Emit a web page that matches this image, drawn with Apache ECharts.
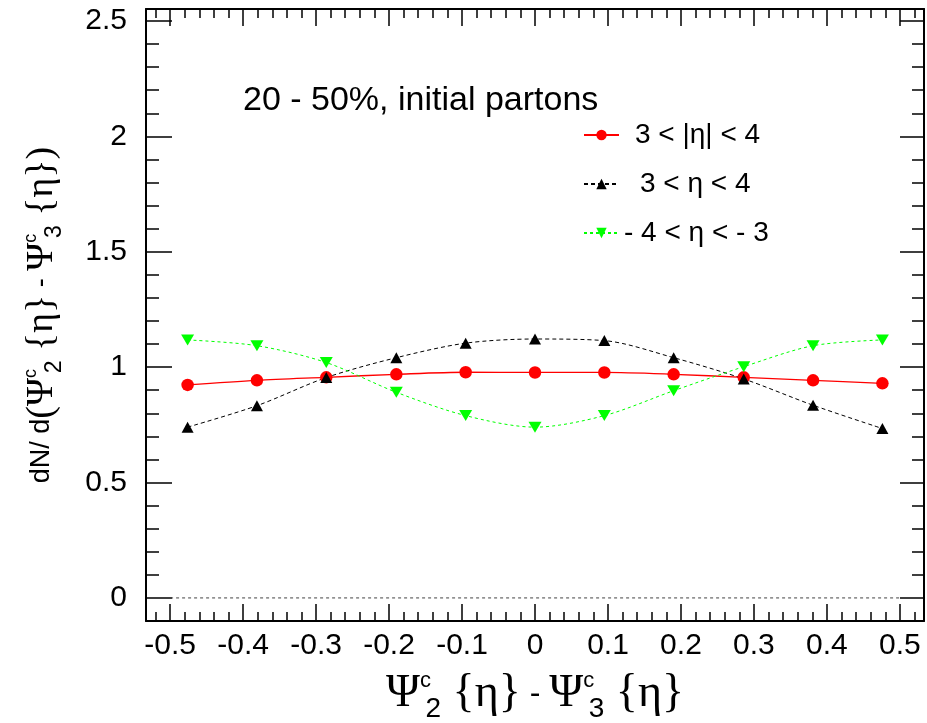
<!DOCTYPE html>
<html><head><meta charset="utf-8">
<script src="https://cdn.jsdelivr.net/npm/echarts@6/dist/echarts.min.js"></script>
<style>html,body{margin:0;padding:0;background:#fff}#c{width:927px;height:723px}</style>
</head><body><div id="c"></div><script>
// ---- data ----
const xValues = [-0.476, -0.381, -0.286, -0.190, -0.095, 0, 0.095, 0.190, 0.286, 0.381, 0.476];
const absEta  = [0.923, 0.943, 0.956, 0.969, 0.978, 0.977, 0.977, 0.969, 0.956, 0.943, 0.930];
const posEta  = [0.740, 0.833, 0.955, 1.041, 1.104, 1.122, 1.115, 1.041, 0.949, 0.835, 0.734];
const negEta  = [1.118, 1.093, 1.020, 0.891, 0.790, 0.740, 0.790, 0.898, 1.002, 1.093, 1.118];
const seriesNames = ['3 < |η| < 4', '3 < η < 4', '- 4 < η < - 3'];
const xTicks = [-0.5, -0.4, -0.3, -0.2, -0.1, 0, 0.1, 0.2, 0.3, 0.4, 0.5];
const yTicks = [0, 0.5, 1, 1.5, 2, 2.5];
const zeroLine = [[-0.5, 0], [0.5, 0]];
const titleText = '20 - 50%, initial partons';

const X_MIN = -0.533, X_MAX = 0.533, Y_MIN = -0.1, Y_MAX = 2.552;
function minorList(from, to, step, majors) {
  const out = [];
  for (let v = from; v <= to + 1e-9; v += step) {
    const r = Math.round(v * 1000) / 1000;
    if (!majors.some(m => Math.abs(m - r) < 1e-6)) out.push(r);
  }
  return out;
}
const xMinor = minorList(-0.52, 0.52, 0.02, xTicks);
const yMinor = minorList(0.1, 2.4, 0.1, yTicks);
const pair = (xs, ys) => xs.map((x, i) => [x, ys[i]]);

const SANS = 'Liberation Sans, Arial, sans-serif';
const SERIF = 'Liberation Serif, Times New Roman, serif';
function makeRich(k) {
  return {
    s:   { fontFamily: SANS, fontSize: Math.round(32 * k), color: '#000', verticalAlign: 'middle' },
    g:   { fontFamily: SERIF, fontSize: Math.round(46 * k), color: '#000', verticalAlign: 'middle' },
    sup: { fontFamily: SANS, fontSize: Math.round(22 * k), color: '#000', width: 0, verticalAlign: 'middle', padding: [0, 0, Math.round(26 * k), 0] },
    sub: { fontFamily: SANS, fontSize: Math.round(28 * k), color: '#000', verticalAlign: 'middle', padding: [Math.round(30 * k), 0, 0, 0] }
  };
}
const richX = makeRich(1), richY = makeRich(0.83);
const PSI_PART = (n) => '{g|Ψ}{sup|\u2002c}{sub|\u2009' + n + '}{g| {η}}';

function xAx(pos, ticks, len, showLine, labels, extra) {
  return Object.assign({
    type: 'value', gridIndex: 0, position: pos, min: X_MIN, max: X_MAX,
    axisLine: { show: showLine, onZero: false, lineStyle: { color: '#000', width: 2 } },
    axisTick: { show: true, inside: true, length: len, customValues: ticks, lineStyle: { color: '#000', width: 1.5 } },
    axisLabel: labels ? { show: true, customValues: ticks, fontSize: 30, fontFamily: SANS, color: '#000', margin: 10 } : { show: false },
    splitLine: { show: false }
  }, extra || {});
}
function yAx(pos, ticks, len, showLine, labels, extra) {
  return Object.assign({
    type: 'value', gridIndex: 0, position: pos, min: Y_MIN, max: Y_MAX,
    axisLine: { show: showLine, onZero: false, lineStyle: { color: '#000', width: 2 } },
    axisTick: { show: true, inside: true, length: len, customValues: ticks, lineStyle: { color: '#000', width: 1.5 } },
    axisLabel: labels ? { show: true, customValues: ticks, fontSize: 30, fontFamily: SANS, color: '#000', margin: 19 } : { show: false },
    splitLine: { show: false }
  }, extra || {});
}

const chart = echarts.init(document.getElementById('c'), null, { renderer: 'canvas' });
const option = {
  animation: false,
  backgroundColor: '#fff',
  title: {
    text: titleText, left: 238, top: 79,
    textStyle: { fontFamily: SANS, fontSize: 34, fontWeight: 'normal', color: '#000' }
  },
  legend: {
    data: seriesNames, orient: 'vertical', left: 583, top: 120, padding: 0,
    itemWidth: 35, itemHeight: 13, itemGap: 19,
    textStyle: {
      fontFamily: SANS, fontSize: 28, color: '#000', lineHeight: 30,
      rich: {
        a: { fontFamily: SANS, fontSize: 28, color: '#000', padding: [0, 0, 0, 11] },
        b: { fontFamily: SANS, fontSize: 28, color: '#000', padding: [0, 0, 0, 16] },
        c: { fontFamily: SANS, fontSize: 28, color: '#000', padding: [0, 0, 0, 0] }
      }
    },
    formatter: function (n) {
      const key = ['a', 'b', 'c'][seriesNames.indexOf(n)];
      return '{' + key + '|' + n + '}';
    }
  },
  grid: { left: 146, right: 3, top: 9, bottom: 102, containLabel: false, outerBoundsMode: 'none' },
  xAxis: [
    xAx('bottom', xTicks, 17, true, true, {
      name: PSI_PART(2) + '{s| - }' + PSI_PART(3),
      nameLocation: 'middle', nameGap: 44,
      nameTextStyle: { fontFamily: SERIF, fontSize: 46, color: '#000', rich: richX }
    }),
    xAx('bottom', xMinor, 9, false, false),
    xAx('top', xTicks, 17, true, false),
    xAx('top', xMinor, 9, false, false)
  ],
  yAxis: [
    yAx('left', yTicks, 26, true, true, {
      name: '{s|dN/ d}{g|(}' + PSI_PART(2) + '{s| - }' + PSI_PART(3) + ')',
      nameLocation: 'middle', nameGap: 80,
      nameTextStyle: { fontFamily: SERIF, fontSize: 38, color: '#000', rich: richY }
    }),
    yAx('left', yMinor, 13, false, false),
    yAx('right', yTicks, 24, true, false),
    yAx('right', yMinor, 12, false, false)
  ],
  series: [
    {
      name: seriesNames[0], type: 'line', xAxisIndex: 0, yAxisIndex: 0,
      data: pair(xValues, absEta), smooth: 0.3,
      symbol: 'circle', symbolSize: 12.5,
      lineStyle: { color: '#ff0000', width: 1.3, type: 'solid' },
      itemStyle: { color: '#ff0000' }
    },
    {
      name: seriesNames[1], type: 'line', xAxisIndex: 0, yAxisIndex: 0,
      data: pair(xValues, posEta), smooth: 0.3,
      symbol: 'triangle', symbolSize: [12, 11],
      lineStyle: { color: '#000', width: 1, type: [4, 3] },
      itemStyle: { color: '#000' }
    },
    {
      name: seriesNames[2], type: 'line', xAxisIndex: 0, yAxisIndex: 0,
      data: pair(xValues, negEta), smooth: 0.3,
      symbol: 'path://M0,0L10,0L5,9Z', symbolSize: [13, 11],
      lineStyle: { color: '#00ff00', width: 1, type: [3, 3] },
      itemStyle: { color: '#00ff00' }
    },
    {
      name: 'zero', type: 'line', xAxisIndex: 0, yAxisIndex: 0,
      data: zeroLine, symbol: 'none', silent: true,
      lineStyle: { color: '#444', width: 1, type: [3, 3] }
    }
  ]
};
chart.setOption(option);
</script></body></html>
